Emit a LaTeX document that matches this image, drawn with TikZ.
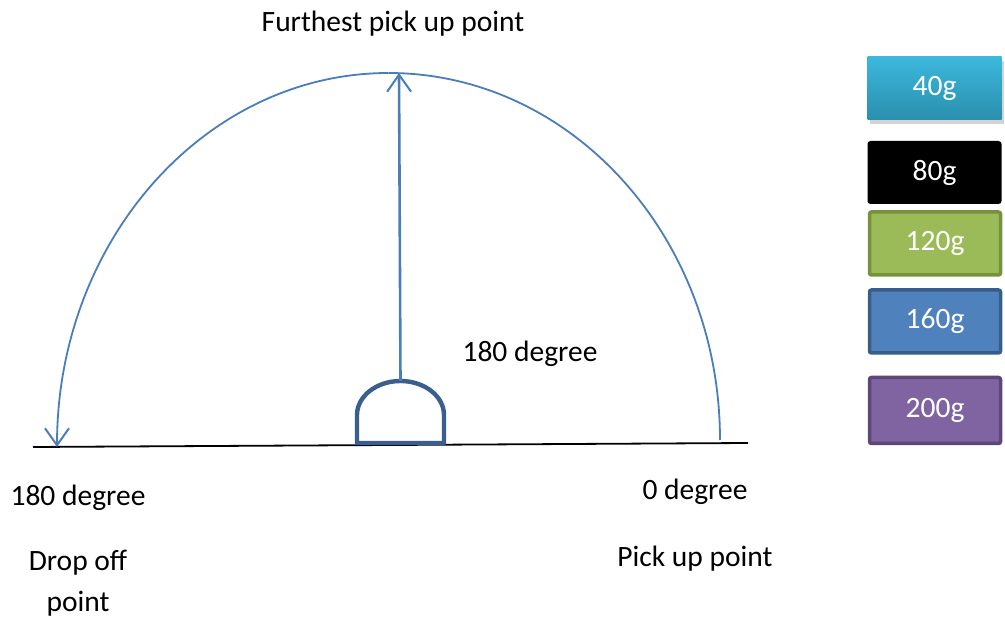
\documentclass[tikz,border=0pt]{standalone}
\usepackage{fontspec}
\setmainfont{Carlito}
\usepackage{xcolor}
\usetikzlibrary{arrows.meta, positioning, shadows}

\definecolor{arcblue}{HTML}{4A7EBB}
\definecolor{domeblue}{HTML}{3A5F8F}
\definecolor{tealtop}{HTML}{3CB8DC}
\definecolor{tealbot}{HTML}{2A8FAD}
\definecolor{greenfill}{HTML}{9BBB59}
\definecolor{greenline}{HTML}{76923C}
\definecolor{bluefill}{HTML}{4F81BD}
\definecolor{blueline}{HTML}{385D8A}
\definecolor{purplefill}{HTML}{8064A2}
\definecolor{purpleline}{HTML}{5C4776}

\begin{document}
\begin{tikzpicture}[
    x=1pt, y=-1pt,
    every node/.style={font=\fontsize{29.5}{34}\selectfont},
    label/.style={inner sep=0pt},
    weight/.style={minimum width=134pt, minimum height=63pt, text=white, inner sep=0pt},
    barb/.style={-{Straight Barb[length=17pt, width=24pt, line width=2pt]}}
]
\useasboundingbox (0,0) rectangle (1005,620);

% ground line and sweep
\coordinate (groundL) at (33,447);
\coordinate (groundR) at (748,443);
\coordinate (pick) at (720,440);
\coordinate (top) at (388.5,73);
\coordinate (drop) at (57,447);
\draw[line width=1.8pt] (groundL) -- (groundR);
\draw[arcblue, line width=1.8pt] (pick) arc[start angle=0, end angle=-90, x radius=331.5, y radius=367];
\draw[arcblue, line width=1.8pt, barb] (top) arc[start angle=-90, end angle=-180, x radius=331.5, y radius=374];

% robot base
\draw[domeblue, line width=4.4pt, line join=round] (357,443) -- (357,415)
    arc[start angle=180, end angle=360, x radius=43.5, y radius=34] -- (444,443) -- cycle;
\coordinate (domeTop) at (400.5,381);
\draw[arcblue, line width=2.6pt, barb] (domeTop) -- (399,73);

% labels
\node[label] (furthest) at (393,24) {Furthest pick up point};
\node[label] (angleMid) at (530,354) {180 degree};
\node[label] (angleL) at (78,498) {180 degree};
\node[label] (angleR) at (695,492) {0 degree};
\node[label, align=center] (dropTxt) at (78,583) {Drop off\\[7pt]point};
\node[label] (pickTxt) at (695,559) {Pick up point};

% weights
\node[weight, top color=tealtop, bottom color=tealbot, drop shadow={shadow xshift=2pt, shadow yshift=-4pt, opacity=0.35}] (w40) at (934.5,88.5) {40g};
\node[weight, fill=black, rounded corners=3pt] (w80) at (934.5,172.5) {80g};
\node[weight, fill=greenfill, draw=greenline, line width=3.5pt, rounded corners=2pt, minimum width=131pt] (w120) at (935,243.5) {120g};
\node[weight, fill=bluefill, draw=blueline, line width=3.5pt, rounded corners=2pt, minimum width=131pt] (w160) at (935,321.5) {160g};
\node[weight, fill=purplefill, draw=purpleline, line width=3.5pt, rounded corners=2pt, minimum width=131pt, minimum height=66pt] (w200) at (935,410.5) {200g};
\end{tikzpicture}
\end{document}
